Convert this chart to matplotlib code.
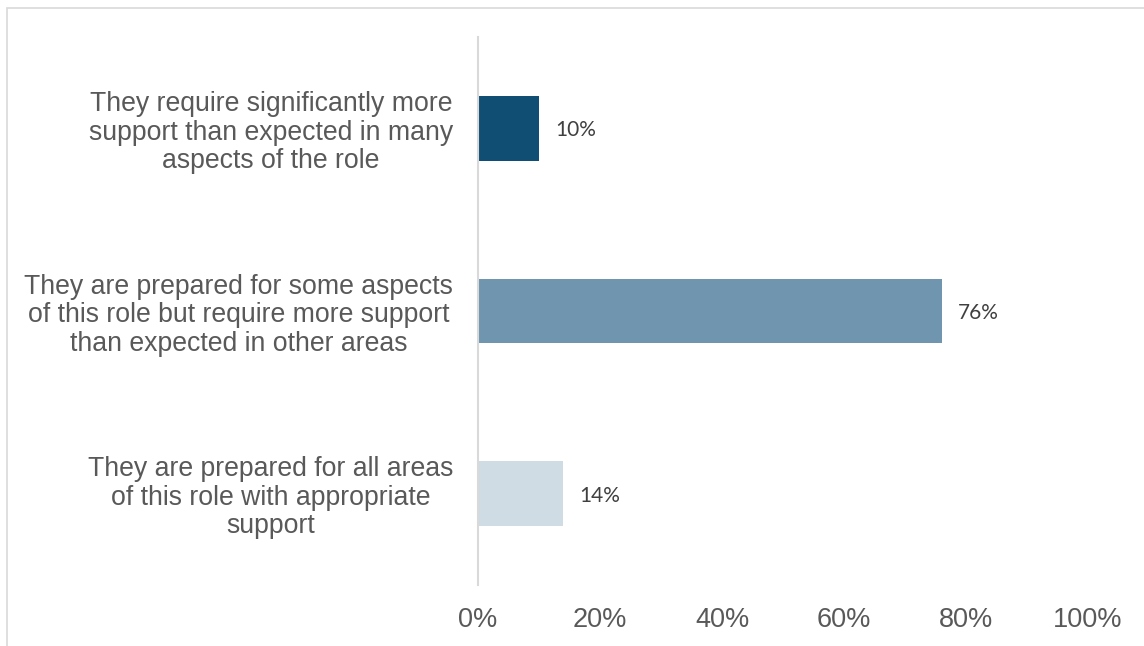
import matplotlib.pyplot as plt
from matplotlib.patches import Rectangle

categories = [
    "They require significantly more\nsupport than expected in many\naspects of the role",
    "They are prepared for some aspects\nof this role but require more support\nthan expected in other areas",
    "They are prepared for all areas\nof this role with appropriate\nsupport",
]
values = [10, 76, 14]
colors = ["#114e73", "#7096af", "#cfdce4"]
xticks = [0, 20, 40, 60, 80, 100]

fig = plt.figure(figsize=(11.44, 6.46), dpi=100)
ax = fig.add_axes([0.4178, 0.0944, 0.5333, 0.8483])

pos = list(range(len(categories)))
ax.barh(pos, values, height=0.355, color=colors)
for y, v in zip(pos, values):
    ax.text(v + 2.6, y + 0.01, f"{v}%", va="center", ha="left",
            fontsize=15, family="Lato", color="#404040")

ax.set_ylim(2.5, -0.5)
ax.set_xlim(0, 100)
ax.set_yticks(pos)
ax.set_yticklabels(categories, fontsize=19.2, family="Liberation Sans",
                   color="#595959", multialignment="center", linespacing=1.12)
ax.set_xticks(xticks)
ax.set_xticklabels([f"{t}%" for t in xticks], fontsize=19.5,
                   family="Liberation Sans", color="#595959")
ax.tick_params(axis="x", length=0, pad=16)
ax.tick_params(axis="y", length=0, pad=18)

for s in ["top", "right", "bottom"]:
    ax.spines[s].set_visible(False)
ax.spines["left"].set_color("#d9d9d9")
ax.spines["left"].set_linewidth(1.5)

# thin frame around the chart area
fig.patches.append(Rectangle((7 / 1144, -0.1), 1.2, 1 - 8 / 646 + 0.1,
                             transform=fig.transFigure, fill=False,
                             edgecolor="#d9d9d9", linewidth=1.2))

fig.savefig("out.png", dpi=100)
